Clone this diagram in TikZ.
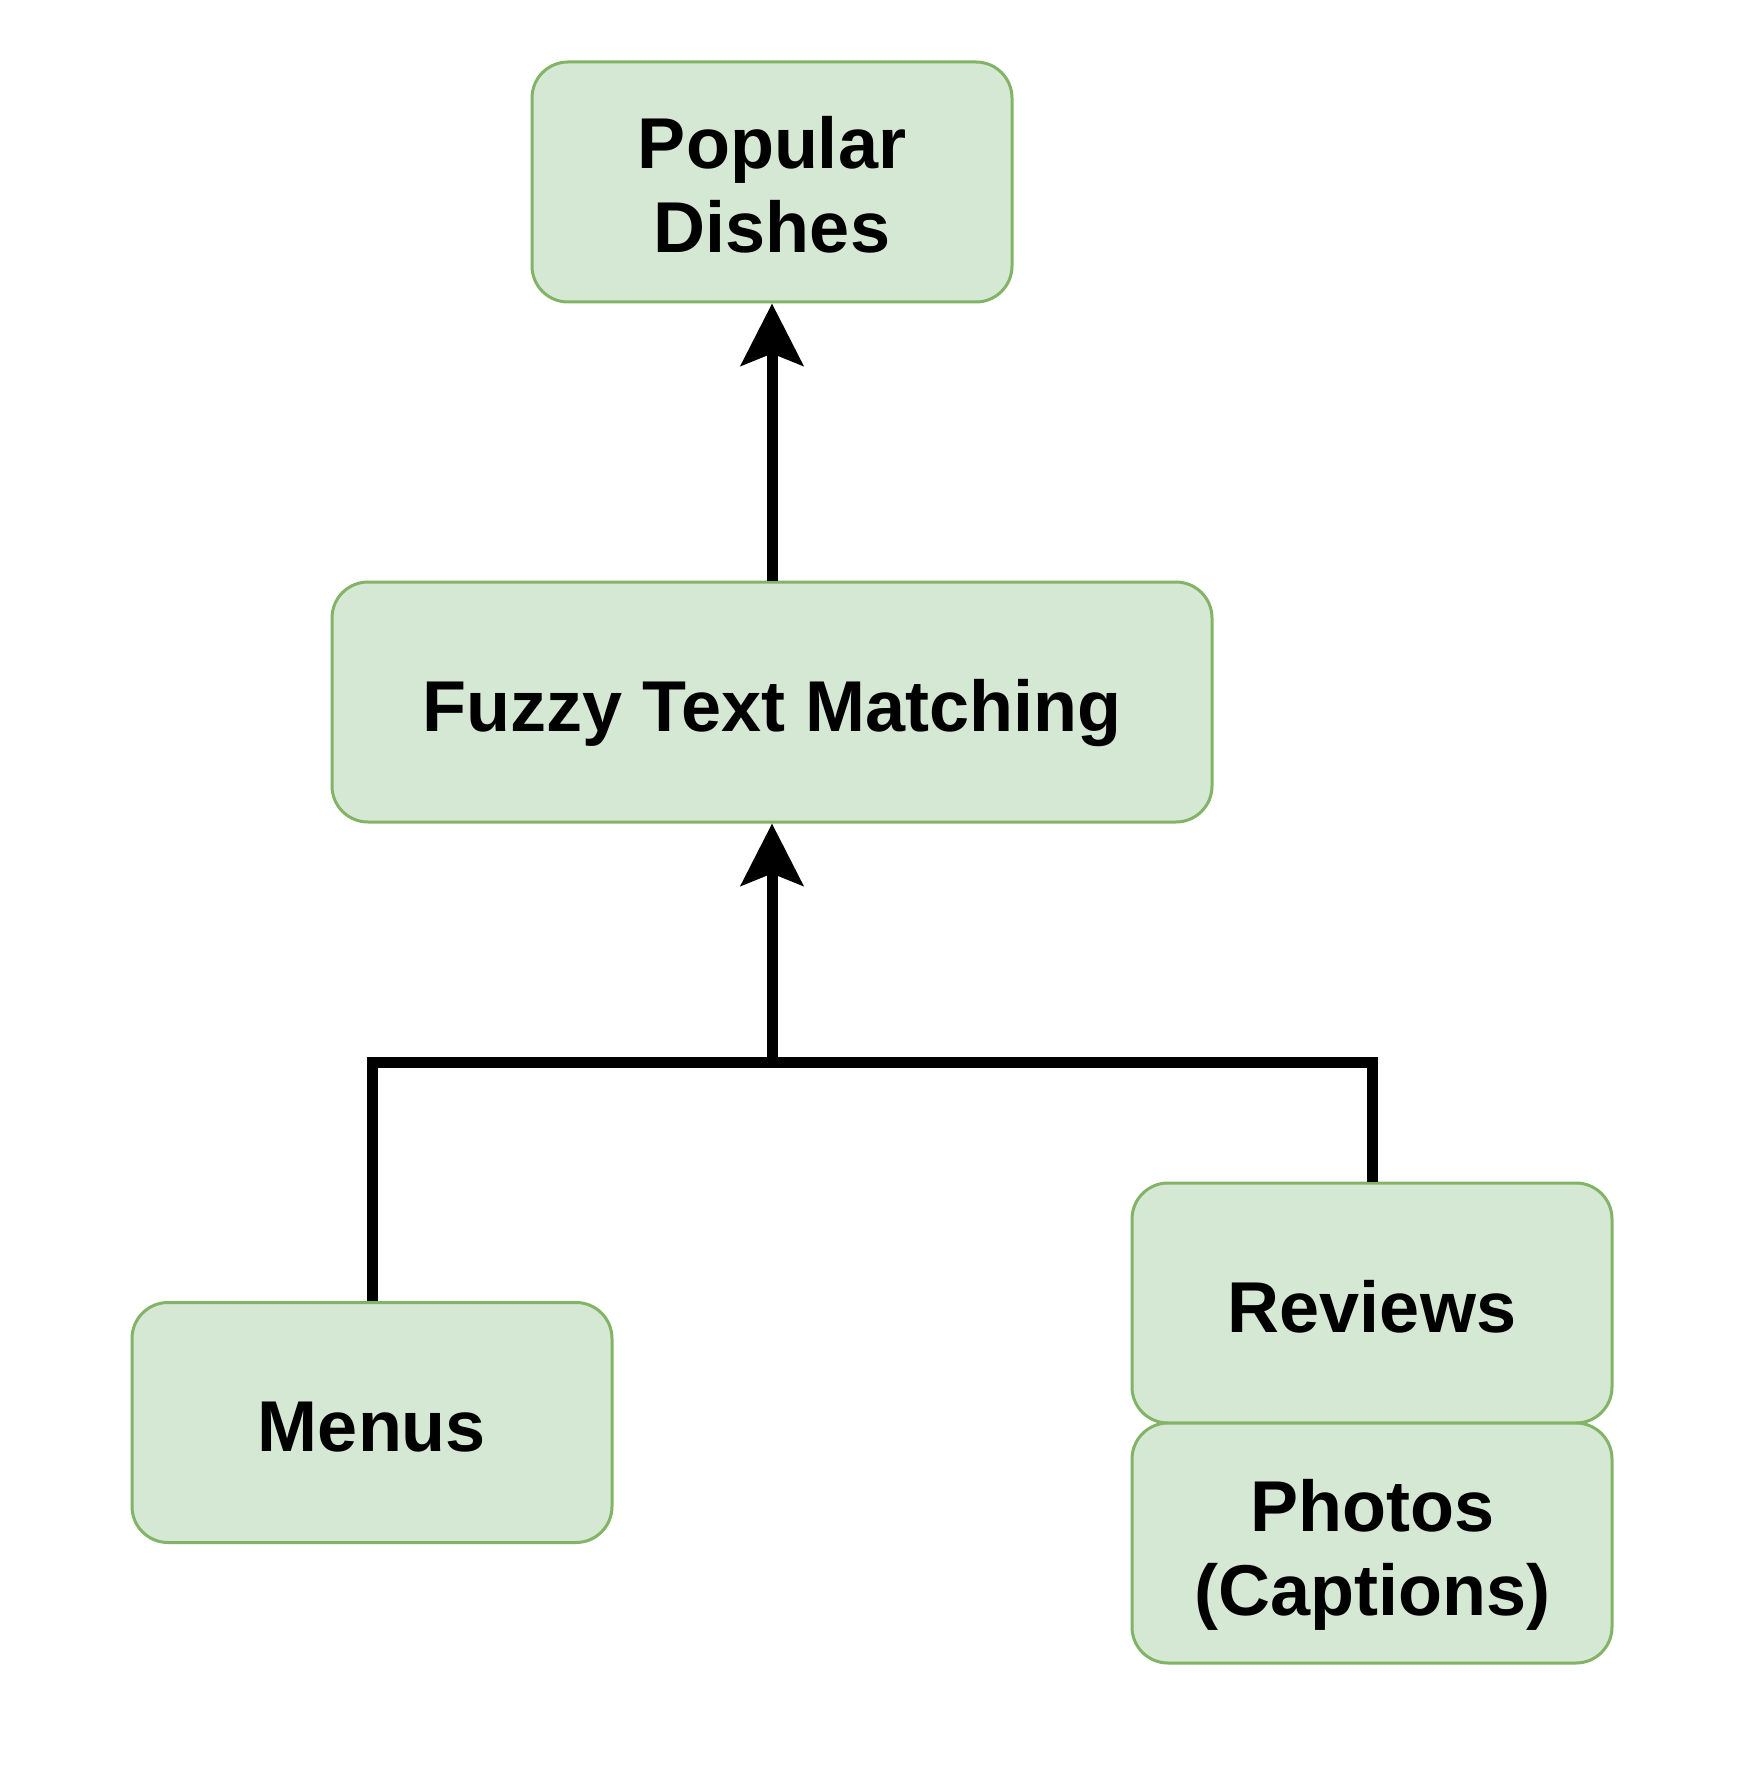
\documentclass[tikz,border=0pt]{standalone}
\usepackage{fontspec}
\setmainfont{Liberation Sans}
\usetikzlibrary{arrows.meta}
\definecolor{boxfill}{HTML}{D5E8D4}
\definecolor{boxline}{HTML}{82B366}
\newcommand\mystrut[1]{\rule{0pt}{#1}}
\begin{document}
\begin{tikzpicture}[x=1pt,y=1pt,
  gbox/.style={draw=boxline, fill=boxfill, line width=3pt, rounded corners=36pt,
    minimum width=480pt, minimum height=240pt, inner sep=0pt, align=center,
    font=\fontsize{72}{84}\selectfont\bfseries},
  conn/.style={draw=black, line width=11pt, line join=miter},
  arr/.style={conn, -{Stealth[length=62pt, width=62pt, inset=12pt]}}]
\useasboundingbox (0,0) rectangle (1738,-1784);
\node[gbox] (popular) at (772,-182) {\mystrut{57pt}Popular\\Dishes};
\node[gbox, minimum width=880pt] (fuzzy) at (772,-702) {\mystrut{75pt}Fuzzy Text Matching};
\node[gbox] (menus) at (372,-1422.5) {\mystrut{59pt}Menus};
\node[gbox] (reviews) at (1372,-1303) {\mystrut{60pt}Reviews};
\node[gbox] (photos) at (1372,-1543) {\mystrut{76pt}Photos\\(Captions)};
\coordinate (j) at (772,-1062);
\draw[conn] (menus.north) -- (menus.north |- j) -- (reviews.north |- j) -- (reviews.north);
\draw[arr] (j) -- (fuzzy.south);
\draw[arr] (fuzzy.north) -- (popular.south);
\end{tikzpicture}
\end{document}
